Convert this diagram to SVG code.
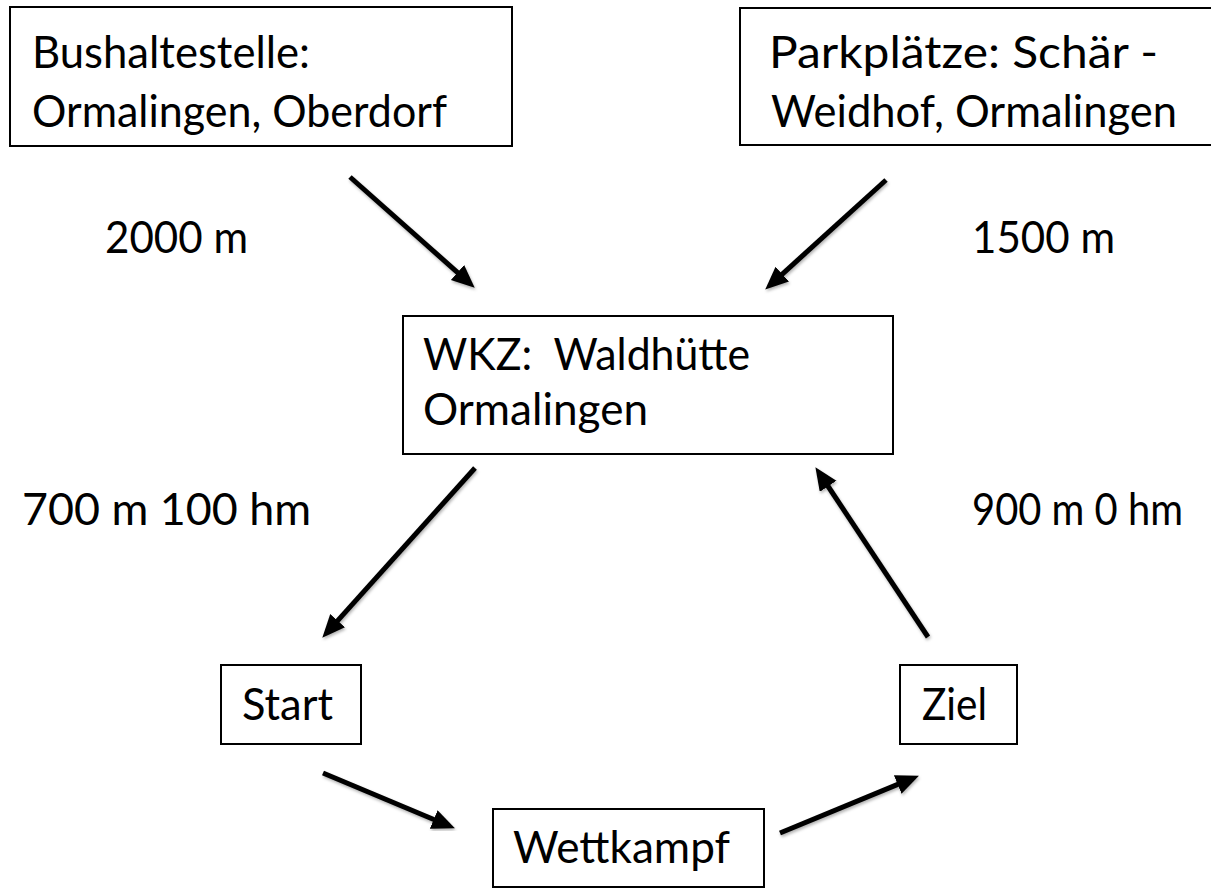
<svg xmlns="http://www.w3.org/2000/svg" width="1211" height="889" viewBox="0 0 1211 889">
<style>
  .box { fill: #fff; stroke: #000; stroke-width: 2; }
  .t { font-family: Lato, "Open Sans", "Liberation Sans", sans-serif; font-size: 44px; fill: #000; }
  .arr { stroke: #000; stroke-width: 5; fill: none; marker-end: url(#ah); filter: url(#sh); }
</style>
<defs>
  <marker id="ah" markerUnits="userSpaceOnUse" orient="auto" markerWidth="26" markerHeight="22" refX="4" refY="10">
    <path d="M0,0 L23,10 L0,20 z" fill="#000"/>
  </marker>
  <filter id="sh" x="-20%" y="-20%" width="140%" height="140%">
    <feDropShadow dx="1" dy="2" stdDeviation="1.5" flood-color="#000" flood-opacity="0.3"/>
  </filter>
</defs>
<rect width="1211" height="889" fill="#fff"/>
<g id="bus">
  <rect class="box" x="10" y="7" width="502" height="139"/>
  <text class="t" x="32" y="68" textLength="278" lengthAdjust="spacingAndGlyphs">Bushaltestelle:</text>
  <text class="t" x="32" y="127" textLength="415" lengthAdjust="spacingAndGlyphs">Ormalingen, Oberdorf</text>
</g>
<g id="park">
  <rect class="box" x="740" y="8" width="476" height="137"/>
  <text class="t" x="769" y="68" textLength="389" lengthAdjust="spacingAndGlyphs">Parkplätze: Schär -</text>
  <text class="t" x="771" y="127" textLength="406" lengthAdjust="spacingAndGlyphs">Weidhof, Ormalingen</text>
</g>
<g id="wkz">
  <rect class="box" x="403" y="316" width="490" height="138"/>
  <text class="t" x="423" y="370" textLength="327" lengthAdjust="spacingAndGlyphs" xml:space="preserve">WKZ:  Waldhütte</text>
  <text class="t" x="423" y="425" textLength="225" lengthAdjust="spacingAndGlyphs">Ormalingen</text>
</g>
<g id="start">
  <rect class="box" x="221" y="665" width="140" height="79"/>
  <text class="t" x="242" y="720" textLength="91" lengthAdjust="spacingAndGlyphs">Start</text>
</g>
<g id="ziel">
  <rect class="box" x="900" y="665" width="117" height="79"/>
  <text class="t" x="922" y="720" textLength="65" lengthAdjust="spacingAndGlyphs">Ziel</text>
</g>
<g id="wettkampf">
  <rect class="box" x="493" y="809" width="271" height="78"/>
  <text class="t" x="513" y="863" textLength="217" lengthAdjust="spacingAndGlyphs">Wettkampf</text>
</g>
<g id="connectors">
  <line class="arr" x1="350" y1="177" x2="460.5" y2="275.1"/>
  <line class="arr" x1="886" y1="180" x2="779.3" y2="276.8"/>
  <line class="arr" x1="475" y1="468" x2="335.0" y2="623.6"/>
  <line class="arr" x1="928" y1="637" x2="825.9" y2="483.0"/>
  <line class="arr" x1="323" y1="773" x2="437.4" y2="821.0"/>
  <line class="arr" x1="780" y1="833" x2="901.4" y2="782.9"/>
</g>
<g id="labels">
  <text class="t" x="105" y="253" textLength="143" lengthAdjust="spacingAndGlyphs">2000 m</text>
  <text class="t" x="972" y="253" textLength="143" lengthAdjust="spacingAndGlyphs">1500 m</text>
  <text class="t" x="22" y="525" textLength="289" lengthAdjust="spacingAndGlyphs">700 m 100 hm</text>
  <text class="t" x="972" y="525" textLength="211" lengthAdjust="spacingAndGlyphs">900 m 0 hm</text>
</g>
</svg>
